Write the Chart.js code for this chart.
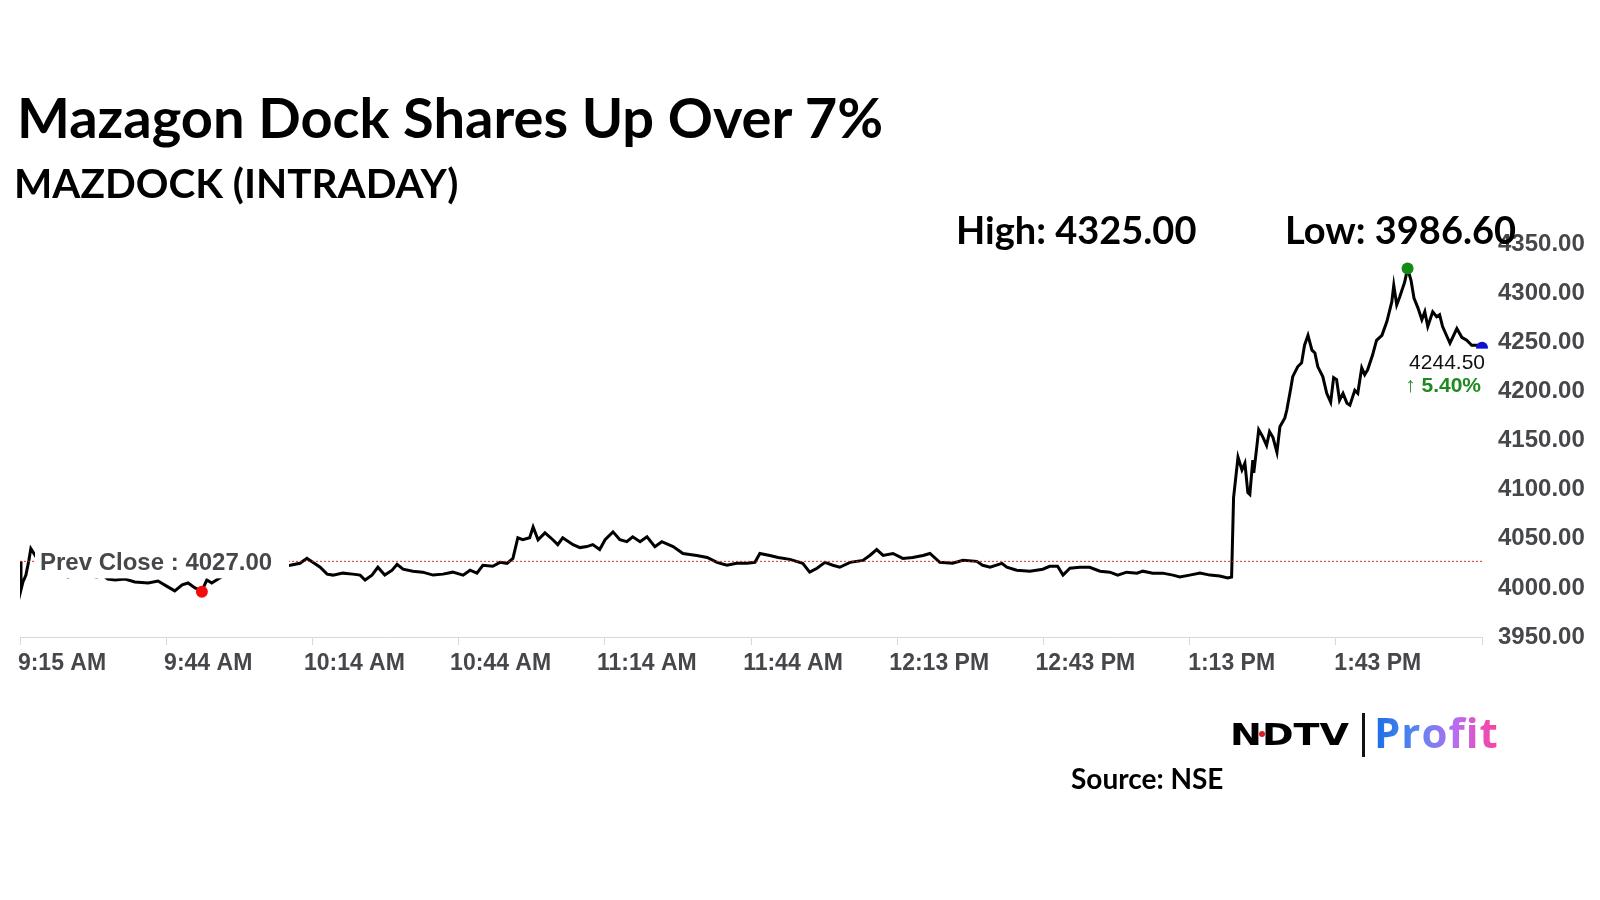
<!DOCTYPE html>
<html>
<head>
<meta charset="utf-8">
<script src="https://cdn.jsdelivr.net/npm/chart.js@4/dist/chart.umd.min.js"></script>
<style>
  html, body { margin: 0; padding: 0; background: #fff; }
  #wrap { position: relative; width: 1600px; height: 900px; overflow: hidden; }
  canvas { position: absolute; left: 0; top: 0; }
  .t { position: absolute; white-space: nowrap; line-height: 1; font-family: Lato, sans-serif; font-weight: 700; color: #000; }
  #title { left: 17px; top: 89px; font-size: 56px; }
  #sub { left: 14px; top: 163px; font-size: 40.5px; }
  #high { left: 956px; top: 210px; font-size: 38px; }
  #low { left: 1285px; top: 210px; font-size: 38px; }
  #src { left: 1071px; top: 764px; font-size: 28px; }
  #ndtv { left: 1230px; top: 720px; font-family: "DejaVu Sans", sans-serif; font-size: 30px; transform: scaleX(1.27); transform-origin: left top; }
  #ndot { position: absolute; left: 1259px; top: 731px; width: 6px; height: 6px; border-radius: 50%; background: #e31b23; }
  #bar { position: absolute; left: 1362px; top: 713px; width: 3px; height: 44px; background: #111; }
  #profit { left: 1374px; top: 711px; font-family: "Open Sans", sans-serif; font-size: 42px; letter-spacing: 1px;
    background: linear-gradient(90deg, #1a6ee6 0%, #5a86f0 35%, #b86df0 65%, #ff3f9b 100%);
    -webkit-background-clip: text; background-clip: text; color: transparent; }
</style>
</head>
<body>
<div id="wrap">
  <canvas id="chart" width="1600" height="900"></canvas>
  <div class="t" id="title">Mazagon Dock Shares Up Over 7%</div>
  <div class="t" id="sub">MAZDOCK (INTRADAY)</div>
  <div class="t" id="high">High: 4325.00</div>
  <div class="t" id="low">Low: 3986.60</div>
  <div class="t" id="ndtv">NDTV</div>
  <div id="ndot"></div>
  <div id="bar"></div>
  <div class="t" id="profit">Profit</div>
  <div class="t" id="src">Source: NSE</div>
</div>
<script>
// minutes after 9:15 AM
const times = [
  0, 0.2, 0.6, 1.2, 1.8, 2.2, 3.7, 5.3, 7.1, 8.5, 9.7, 11.2, 12.8, 14.2, 15.6, 16.8,
  17.8, 19.3, 21.3, 23.3, 26.0, 28.0, 30.0, 31.4, 32.9, 34.1, 35.5, 36.9, 37.9, 38.9, 40.2, 41.2,
  43.0, 45.0, 47.1, 49.1, 51.1, 53.1, 54.8, 56.8, 58.2, 59.4, 60.9, 62.3, 63.5, 65.5, 67.5, 69.0,
  70.0, 71.4, 72.6, 74.0, 75.5, 76.5, 77.7, 79.7, 81.7, 83.8, 85.8, 87.8, 89.9, 91.3, 92.7, 93.9,
  95.9, 97.4, 98.8, 100.0, 101.0, 102.0, 103.4, 104.1, 105.1, 106.5, 108.1, 109.1, 110.1, 112.2, 113.6, 115.0,
  116.2, 117.6, 118.7, 120.3, 121.7, 123.1, 124.3, 125.8, 127.2, 128.8, 130.2, 132.5, 134.5, 137.3, 139.4, 141.4,
  143.4, 145.4, 147.5, 149.1, 150.1, 152.1, 153.8, 156.2, 158.8, 160.2, 161.7, 163.3, 164.9, 166.3, 168.4, 171.0,
  172.4, 173.8, 175.1, 177.1, 179.1, 181.1, 183.2, 184.6, 186.6, 189.2, 191.3, 194.1, 195.3, 196.8, 199.2, 200.2,
  202.2, 204.9, 207.5, 208.9, 210.5, 211.6, 213.0, 215.0, 217.0, 219.1, 221.1, 222.7, 224.5, 226.6, 227.8, 229.8,
  231.8, 233.9, 235.3, 237.3, 239.4, 241.4, 243.4, 245.0, 245.8, 246.2, 247.1, 247.9, 248.5, 249.1, 249.5, 250.1,
  250.3, 250.9, 251.3, 252.1, 252.9, 253.5, 254.2, 255.0, 255.6, 256.6, 257.0, 257.8, 258.2, 259.2, 260.0, 260.6,
  261.3, 262.1, 262.7, 263.3, 264.3, 265.1, 265.9, 266.5, 267.1, 267.7, 268.4, 269.2, 269.8, 270.8, 271.4, 272.2,
  272.8, 273.4, 274.4, 275.2, 276.3, 277.3, 278.3, 278.7, 279.3, 279.9, 280.9, 281.5, 282.2, 282.8, 283.6, 284.4,
  285.0, 285.6, 286.6, 287.4, 288.0, 288.6, 290.1, 291.5, 292.5, 293.5, 294.5, 295.5, 296.6
];
const prices = [
  4027, 3998, 4006, 4013, 4028, 4040, 4028, 4022, 4016, 4014, 4011, 4014, 4013, 4012, 4011, 4013,
  4009, 4008, 4009, 4006, 4005, 4007, 4001, 3997, 4003, 4005, 4000, 3997, 4008, 4005, 4009, 4012,
  4016, 4020, 4018, 4022, 4020, 4022, 4023, 4025, 4030, 4026, 4021, 4014, 4013, 4015, 4014, 4013,
  4008, 4013, 4021, 4013, 4018, 4024, 4019, 4017, 4016, 4013, 4014, 4016, 4013, 4018, 4015, 4023,
  4022, 4026, 4025, 4030, 4051, 4049, 4051, 4062, 4049, 4056, 4049, 4044, 4051, 4044, 4041, 4042,
  4044, 4039, 4049, 4057, 4049, 4047, 4052, 4047, 4052, 4042, 4047, 4042, 4035, 4033, 4031, 4026,
  4023, 4025, 4025, 4026, 4035, 4033, 4031, 4029, 4025, 4016, 4020, 4026, 4023, 4021, 4026, 4028,
  4033, 4039, 4033, 4035, 4030, 4031, 4033, 4035, 4026, 4025, 4028, 4027, 4023, 4021, 4025, 4021,
  4018, 4017, 4019, 4022, 4022, 4013, 4020, 4021, 4021, 4017, 4016, 4013, 4016, 4015, 4017, 4015,
  4015, 4013, 4011, 4013, 4015, 4013, 4012, 4010, 4011, 4092, 4133, 4120, 4127, 4097, 4095, 4130,
  4117, 4143, 4161, 4154, 4145, 4159, 4153, 4138, 4164, 4173, 4181, 4203, 4215, 4225, 4229, 4247,
  4257, 4242, 4239, 4225, 4215, 4198, 4189, 4214, 4212, 4191, 4198, 4188, 4186, 4201, 4198, 4224,
  4217, 4222, 4237, 4252, 4257, 4271, 4291, 4308, 4288, 4296, 4311, 4325, 4313, 4295, 4285, 4273,
  4281, 4266, 4281, 4276, 4278, 4266, 4249, 4264, 4255, 4252, 4247, 4247, 4244.5
];
const tickLabels = ['9:15 AM', '9:44 AM', '10:14 AM', '10:44 AM', '11:14 AM', '11:44 AM',
  '12:13 PM', '12:43 PM', '1:13 PM', '1:43 PM', ''];
const tickStep = 29.66;
const prevClose = 4027;
const lowMark = { x: 36.9, y: 3996 };
const highMark = { x: 281.5, y: 4325 };
const lastMark = { x: 296.6, y: 4244.5 };
const lastChange = '5.40%';

const endTime = times[times.length - 1];
const axisGrey = '#45474a';

Chart.defaults.font.family = '"Liberation Sans", Arial, sans-serif';

// white boxes with labels, drawn over the line
const labelsPlugin = {
  id: 'labels',
  afterDatasetsDraw(chart) {
    const { ctx, scales: { x, y } } = chart;
    const py = y.getPixelForValue(prevClose);
    ctx.save();
    ctx.fillStyle = '#fff';
    ctx.fillRect(35, py - 17, 254, 34);
    ctx.fillStyle = axisGrey;
    ctx.font = 'bold 24px "Liberation Sans", Arial, sans-serif';
    ctx.textBaseline = 'middle';
    ctx.textAlign = 'left';
    ctx.fillText('Prev Close : ' + prevClose.toFixed(2), 40, py + 2);

    const lx = x.getPixelForValue(lastMark.x);
    const ly = y.getPixelForValue(lastMark.y);
    ctx.fillStyle = '#fff';
    ctx.fillRect(lx - 86, ly + 1, 94, 50);
    ctx.textAlign = 'right';
    ctx.fillStyle = '#111';
    ctx.font = '21px "Liberation Sans", Arial, sans-serif';
    ctx.fillText(lastMark.y.toFixed(2), lx + 3, ly + 16);
    ctx.fillStyle = '#1e8a1e';
    ctx.font = 'bold 21px "Liberation Sans", Arial, sans-serif';
    ctx.fillText('\u2191 ' + lastChange, lx - 1, ly + 39);
    ctx.restore();
  }
};

new Chart(document.getElementById('chart'), {
  type: 'line',
  data: {
    datasets: [
      {
        data: [lowMark], showLine: false, pointRadius: 6, pointBorderWidth: 0,
        pointBackgroundColor: '#f20d0d', clip: false, order: 0
      },
      {
        data: [highMark], showLine: false, pointRadius: 6, pointBorderWidth: 0,
        pointBackgroundColor: '#138a13', clip: false, order: 0
      },
      {
        data: [lastMark], showLine: false, pointRadius: 6, pointBorderWidth: 0,
        pointBackgroundColor: '#1010d0', clip: false, order: 0
      },
      {
        data: [{ x: 0, y: prevClose }, { x: endTime, y: prevClose }],
        borderColor: 'rgba(205, 30, 30, 0.9)', borderWidth: 1, borderDash: [2, 2],
        pointRadius: 0, order: 1
      },
      {
        data: times.map((t, i) => ({ x: t, y: prices[i] })),
        borderColor: '#000', borderWidth: 3, pointRadius: 0, tension: 0,
        borderJoinStyle: 'miter', order: 2
      }
    ]
  },
  options: {
    responsive: false,
    animation: false,
    events: [],
    layout: { padding: { left: 20, top: 244, right: 0, bottom: 0 } },
    plugins: { legend: { display: false }, tooltip: { enabled: false } },
    scales: {
      x: {
        type: 'linear',
        min: 0,
        max: endTime,
        afterBuildTicks: (s) => { s.ticks = tickLabels.map((l, i) => ({ value: i * tickStep })); },
        afterFit: (s) => { s.height = 263; s.paddingLeft = 0; s.paddingRight = 0; },
        grid: { drawOnChartArea: false, drawTicks: true, tickLength: 8, color: '#d9d9d9' },
        border: { display: true, color: '#d9d9d9', width: 1 },
        ticks: {
          autoSkip: false, maxRotation: 0, align: 'center', labelOffset: 42, padding: 5,
          color: axisGrey, font: { size: 23, weight: 'bold' },
          callback: (v, i) => tickLabels[i]
        }
      },
      y: {
        position: 'right',
        min: 3950,
        max: 4350,
        afterFit: (s) => { s.width = 118; },
        grid: { display: false },
        border: { display: false },
        ticks: {
          stepSize: 50, padding: 8,
          color: axisGrey, font: { size: 24, weight: 'bold' },
          callback: (v) => v.toFixed(2)
        }
      }
    }
  },
  plugins: [labelsPlugin]
});
</script>
</body>
</html>
